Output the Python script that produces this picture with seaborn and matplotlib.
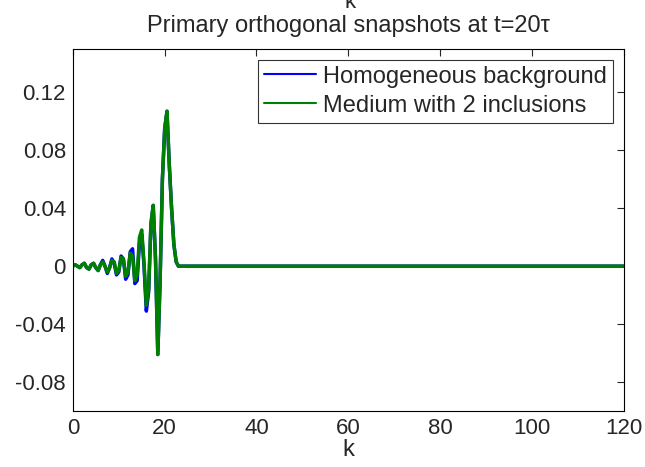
import numpy as np
import pandas as pd
import matplotlib
matplotlib.use('Agg')
import matplotlib.pyplot as plt
import seaborn as sns

# sample positions (the signal is flat zero after k=23, up to 120)
k = [0, 0.5, 1, 1.5, 2, 2.5, 3, 3.5, 4, 4.5, 5, 5.5, 6, 6.5, 7, 7.5, 8, 8.5, 9, 9.5,
     10, 10.5, 11, 11.5, 12, 12.5, 13, 13.5, 14, 14.5, 15, 15.5, 16, 16.5, 17, 17.5,
     18, 18.5, 19, 19.5, 20, 20.5, 21, 21.5, 22, 22.5, 23, 27, 120]

homogeneous = [0, 0.001, 0.0, -0.001, 0.001, 0.002, -0.001, -0.002, 0.001, 0.002,
               -0.001, -0.003, 0.001, 0.004, 0.0, -0.005, -0.001, 0.005, 0.002, -0.006,
               -0.004, 0.007, 0.005, -0.009, -0.006, 0.010, 0.012, -0.012, -0.010, 0.016,
               0.022, 0.0, -0.031, -0.018, 0.028, 0.042, 0.005, -0.061, -0.010, 0.060,
               0.095, 0.107, 0.070, 0.040, 0.015, 0.003, 0.0, 0.0, 0.0]

inclusions = [0, 0.001, 0.0, -0.001, 0.001, 0.002, -0.001, -0.002, 0.001, 0.002,
              -0.001, -0.003, 0.001, 0.003, 0.0, -0.004, -0.001, 0.004, 0.003, -0.005,
              -0.003, 0.006, 0.005, -0.007, -0.004, 0.009, 0.007, -0.010, -0.006, 0.020,
              0.025, 0.002, -0.027, -0.016, 0.030, 0.042, 0.005, -0.061, -0.010, 0.060,
              0.095, 0.107, 0.070, 0.040, 0.015, 0.003, 0.0, 0.0, 0.0]

df = pd.DataFrame({
    'k': k * 2,
    'value': homogeneous + inclusions,
    'series': ['Homogeneous background'] * len(k) + ['Medium with 2 inclusions'] * len(k),
})

sns.set_style('white')
plt.rcParams['font.family'] = ['Liberation Sans', 'DejaVu Sans']

fig = plt.figure(figsize=(6.45, 4.67), dpi=100)
ax = fig.add_axes([0.113, 0.12, 0.854, 0.775])

sns.lineplot(data=df, x='k', y='value', hue='series',
             palette=['#0000ff', '#008000'], linewidth=2.5, ax=ax)

ax.set_xlim(0, 120)
ax.set_ylim(-0.1, 0.15)
ax.set_xticks([0, 20, 40, 60, 80, 100, 120])
ax.set_yticks([-0.08, -0.04, 0, 0.04, 0.08, 0.12])
ax.set_yticklabels(['-0.08', '-0.04', '0', '0.04', '0.08', '0.12'])
ax.tick_params(direction='in', top=True, right=True, labelsize=16, length=5, width=0.8, pad=5)
for s in ax.spines.values():
    s.set_linewidth(0.8)
    s.set_color('black')

ax.set_xlabel('k', fontsize=17, labelpad=0)
ax.set_ylabel('')
ax.set_title('Primary orthogonal snapshots at t=20\u03c4', fontsize=17, pad=12)

leg = ax.legend(loc='upper right', fontsize=17, frameon=True, fancybox=False,
                edgecolor='black', handlelength=2.2, borderaxespad=0.45,
                handletextpad=0.3, borderpad=0.25, labelspacing=0.3)
leg.get_frame().set_linewidth(0.8)
for line in leg.get_lines():
    line.set_linewidth(1.5)

# stray label cut off at the top edge
fig.text(0.543, 1.0 - 2 / 467, 'k', fontsize=16, ha='center', va='center')

fig.savefig('out.png', dpi=100)
